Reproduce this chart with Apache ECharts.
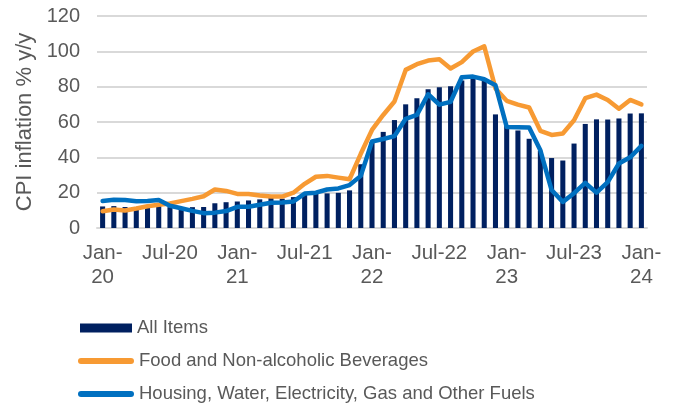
<!DOCTYPE html>
<html>
<head>
<meta charset="utf-8">
<script src="https://cdn.jsdelivr.net/npm/echarts@6/dist/echarts.min.js"></script>
<style>
html,body{margin:0;padding:0;background:#fff;}
#chart{width:678px;height:408px;}
</style>
</head>
<body>
<div id="chart"></div>
<script>
var categories = ['Jan-20','Feb-20','Mar-20','Apr-20','May-20','Jun-20','Jul-20','Aug-20','Sep-20','Oct-20','Nov-20','Dec-20',
  'Jan-21','Feb-21','Mar-21','Apr-21','May-21','Jun-21','Jul-21','Aug-21','Sep-21','Oct-21','Nov-21','Dec-21',
  'Jan-22','Feb-22','Mar-22','Apr-22','May-22','Jun-22','Jul-22','Aug-22','Sep-22','Oct-22','Nov-22','Dec-22',
  'Jan-23','Feb-23','Mar-23','Apr-23','May-23','Jun-23','Jul-23','Aug-23','Sep-23','Oct-23','Nov-23','Dec-23',
  'Jan-24'];

var allItems = [12.2,12.4,11.9,10.9,11.4,12.6,11.8,11.8,11.8,11.9,14.0,14.6,
  15.0,15.6,16.2,17.1,16.6,17.5,19.0,19.3,19.6,19.9,21.3,36.1,
  48.7,54.4,61.1,70.0,73.5,78.6,79.6,80.2,83.5,85.5,84.4,64.3,
  57.7,55.2,50.5,43.7,39.6,38.2,47.8,58.9,61.5,61.4,62.0,64.8,
  64.9];

var food = [9.5,10.5,9.9,11.0,12.3,13.2,13.9,15.2,16.5,18.0,21.8,21.0,
  19.3,19.3,18.4,17.8,17.8,20.0,25.0,29.0,29.5,28.5,27.6,42.0,
  55.5,64.0,71.6,89.5,92.7,94.8,95.5,90.3,93.9,99.9,102.8,79.0,
  72.0,69.8,68.2,55.0,52.7,53.5,61.0,73.5,75.5,72.5,67.5,72.5,
  70.0];

var housing = [15.3,16.0,15.8,15.2,15.3,15.8,12.6,11.2,9.7,8.4,8.7,9.6,
  12.0,12.0,13.2,14.3,14.5,15.0,19.5,20.0,21.8,22.4,24.3,29.5,
  49.0,50.4,52.0,61.8,64.0,75.7,69.8,71.4,85.3,85.7,84.2,80.8,
  57.2,57.0,56.9,44.0,21.5,14.8,19.7,25.5,20.0,26.0,36.5,40.0,
  46.5];

var seriesNames = ['All Items','Food and Non-alcoholic Beverages','Housing, Water, Electricity, Gas and Other Fuels'];
var yTicks = {min: 0, max: 120, interval: 20};

var colors = {bar: '#002060', food: '#F79A33', housing: '#0070C0'};
var textColor = '#595959';
var gridColor = '#D9D9D9';
var FONT = '"Liberation Sans", Arial, sans-serif';

var chart = echarts.init(document.getElementById('chart'), null, {renderer: 'canvas'});

var lineIcon = 'path://M3,0 L53,0 A3,3 0 0 1 53,6 L3,6 A3,3 0 0 1 3,0 Z';

function legendFor(name, icon, top, left, w, h) {
  return {
    data: [{name: name, icon: icon}],
    orient: 'vertical',
    left: left,
    top: top,
    padding: 0,
    itemWidth: w,
    itemHeight: h,
    itemGap: 5,
    selectedMode: false,
    textStyle: {color: textColor, fontSize: 18.5, fontFamily: FONT, lineHeight: 20, padding: [0, 0, 0, 0]}
  };
}

chart.setOption({
  animation: false,
  backgroundColor: '#ffffff',
  grid: {left: 97, right: 31, top: 16, bottom: 180, containLabel: false},
  legend: [
    legendFor(seriesNames[0], 'rect', 318, 80, 52, 9),
    legendFor(seriesNames[1], lineIcon, 351, 78, 56, 6),
    legendFor(seriesNames[2], lineIcon, 384, 78, 56, 6)
  ],
  xAxis: {
    type: 'category',
    data: categories,
    boundaryGap: true,
    axisLine: {show: true, lineStyle: {color: gridColor, width: 2}},
    axisTick: {show: false},
    axisLabel: {
      interval: 5,
      color: textColor,
      fontSize: 20.5,
      fontFamily: FONT,
      lineHeight: 24.5,
      margin: 13,
      align: 'center',
      formatter: function (v) {
        return v.indexOf('Jan') === 0 ? v.replace('-', '-\n') : v;
      }
    },
    splitLine: {show: false}
  },
  yAxis: {
    type: 'value',
    min: yTicks.min,
    max: yTicks.max,
    interval: yTicks.interval,
    name: 'CPI inflation % y/y',
    nameLocation: 'middle',
    nameGap: 60,
    nameTextStyle: {color: textColor, fontSize: 22, fontFamily: FONT},
    axisLine: {show: false},
    axisTick: {show: false},
    axisLabel: {color: textColor, fontSize: 20, fontFamily: FONT, margin: 17},
    splitLine: {show: true, lineStyle: {color: gridColor, width: 2}}
  },
  series: [
    {
      name: seriesNames[0],
      type: 'bar',
      data: allItems,
      barWidth: '45%',
      itemStyle: {color: colors.bar},
      z: 1
    },
    {
      name: seriesNames[1],
      type: 'line',
      data: food,
      symbol: 'none',
      smooth: false,
      lineStyle: {color: colors.food, width: 4.5, join: 'round', cap: 'round'},
      itemStyle: {color: colors.food},
      z: 2
    },
    {
      name: seriesNames[2],
      type: 'line',
      data: housing,
      symbol: 'none',
      smooth: false,
      lineStyle: {color: colors.housing, width: 4.5, join: 'round', cap: 'round'},
      itemStyle: {color: colors.housing},
      z: 3
    }
  ]
});
</script>
</body>
</html>
